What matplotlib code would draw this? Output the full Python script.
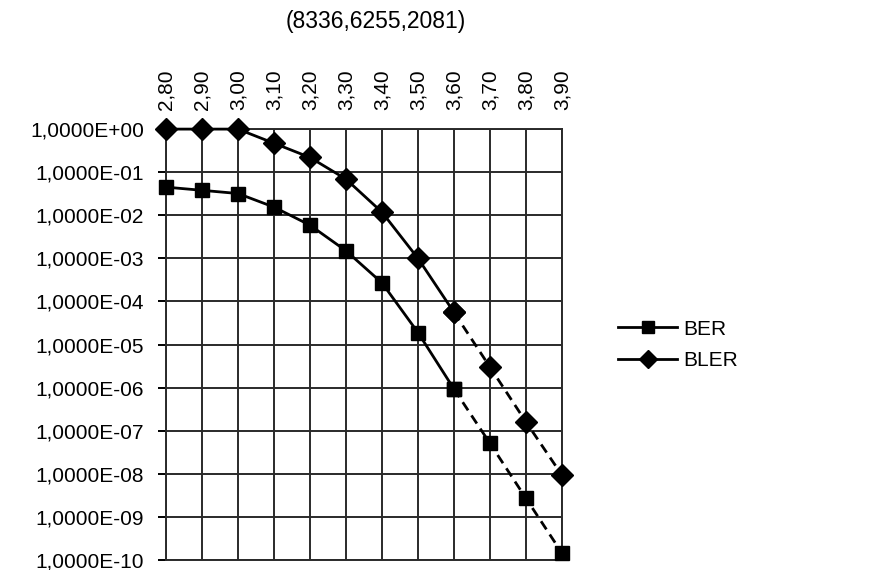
"""BER / BLER versus Eb/N0 for the (8336,6255,2081) code."""

import numpy as np
import matplotlib.pyplot as plt
from matplotlib.lines import Line2D
from matplotlib.ticker import FixedLocator, FuncFormatter, NullLocator

plt.rcParams['font.family'] = ['Liberation Sans', 'DejaVu Sans']

title = "(8336,6255,2081)"
snr = [2.80, 2.90, 3.00, 3.10, 3.20, 3.30, 3.40, 3.50, 3.60, 3.70, 3.80, 3.90]
ber = [4.5e-2, 3.8e-2, 3.2e-2, 1.55e-2, 5.9e-3, 1.5e-3, 2.7e-4, 1.9e-5,
       9.3e-7, 5.1e-8, 2.7e-9, 1.45e-10]
bler = [1.0, 1.0, 1.0, 0.47, 0.22, 6.9e-2, 1.18e-2, 1.0e-3,
        5.6e-5, 3.0e-6, 1.6e-7, 9.3e-9]
# points from this index on are extrapolated and drawn dashed
split = 8


def sci_label(v, pos):
    """Format a power of ten as 1,0000E-05."""
    exp = int(round(np.log10(v)))
    return "1,0000E%+03d" % exp


fig = plt.figure(figsize=(8.69, 5.70), dpi=100)
ax = fig.add_axes([0.191, 0.0175, 0.4557, 0.756])

for vals, mk, ms in ((ber, 's', 10), (bler, 'D', 11)):
    ax.plot(snr[:split + 1], vals[:split + 1], color='black', lw=2.0,
            marker=mk, ms=ms, zorder=3, clip_on=False)
    ax.plot(snr[split:], vals[split:], color='black', lw=2.0,
            ls=(0, (3.5, 2.2)), marker=mk, ms=ms, zorder=3, clip_on=False)

ax.set_yscale('log')
ax.set_ylim(1e-10, 1.0)
ax.set_xlim(snr[0], snr[-1])
ax.yaxis.set_major_locator(FixedLocator([10.0 ** -k for k in range(11)]))
ax.yaxis.set_minor_locator(NullLocator())
ax.yaxis.set_major_formatter(FuncFormatter(sci_label))

ax.set_xticks(snr)
ax.set_xticklabels([("%.2f" % s).replace('.', ',') for s in snr], rotation=90)
ax.xaxis.tick_top()
ax.tick_params(axis='x', length=0, pad=14, labelsize=15)
ax.tick_params(axis='y', length=6, width=1.4, pad=10, labelsize=15)

ax.grid(True, color='#2a2a2a', lw=1.4)
ax.set_axisbelow(True)
for sp in ax.spines.values():
    sp.set_color('#2a2a2a')
    sp.set_linewidth(1.4)

fig.text(0.432, 0.962, title, ha='center', va='center', fontsize=16.5)

handles = [Line2D([], [], color='black', lw=2.0, marker='s', ms=8),
           Line2D([], [], color='black', lw=2.0, marker='D', ms=9)]
fig.legend(handles, ["BER", "BLER"], loc='center left',
           bbox_to_anchor=(0.69, 0.395), frameon=False, fontsize=15,
           handlelength=2.8, handletextpad=0.3, labelspacing=0.6)

fig.savefig("out.png", dpi=100)
